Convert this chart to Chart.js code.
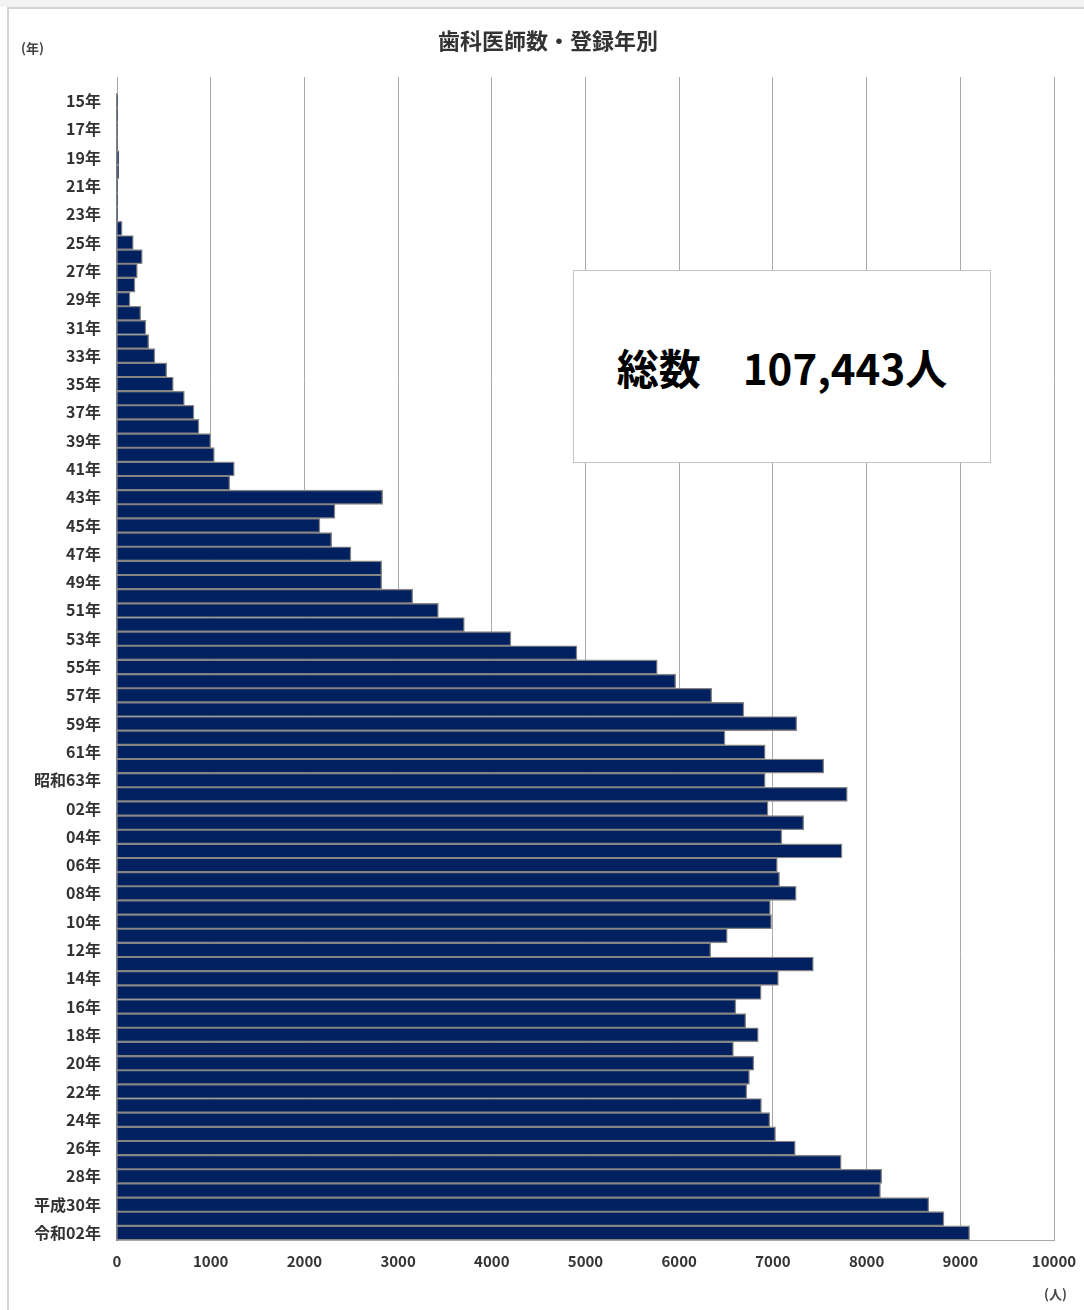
<!DOCTYPE html>
<html lang="ja">
<head>
<meta charset="utf-8">
<script src="https://cdn.jsdelivr.net/npm/chart.js@4.4.1/dist/chart.umd.min.js"></script>
<style>
  html, body { margin: 0; padding: 0; background: #fff; }
  body { width: 1084px; height: 1310px; position: relative; overflow: hidden; font-family: "Noto Sans CJK JP", sans-serif; }
  .topstrip { position: absolute; left: 0; top: 0; width: 1084px; height: 7px; background: #f3f3f3; }
  .frame { position: absolute; left: 7px; top: 7px; width: 1100px; height: 1320px; border-left: 2px solid #d4d4d4; border-top: 2px solid #d4d4d4; }
  #chart { position: absolute; left: 0; top: 0; }
  .title { position: absolute; left: 0; width: 1096px; top: 23px; text-align: center; font-weight: bold; font-size: 22px; color: #333; }
  .unit { position: absolute; font-weight: bold; font-size: 13px; color: #444; }
  .total { position: absolute; left: 573px; top: 270px; width: 416px; height: 191px; border: 1px solid #c4c4c4; background: #fff;
           display: flex; align-items: center; justify-content: center; font-weight: bold; font-size: 42px; color: #000; white-space: pre; }
</style>
</head>
<body>
<div class="topstrip"></div>
<div class="frame"></div>
<canvas id="chart" width="1084" height="1310"></canvas>
<div class="title">歯科医師数・登録年別</div>
<div class="unit" style="left:21px; top:38px;">(年)</div>
<div class="unit" style="left:1044px; top:1284px;">(人)</div>
<div class="total">総数　107,443人</div>

<script>
// 登録年 (昭和15年〜昭和63年, 平成01年〜平成30年, 令和01年〜令和02年)
const showaYears = [];
for (let y = 15; y <= 63; y++) showaYears.push(y === 63 ? '昭和63年' : y + '年');
const heiseiYears = [];
for (let y = 1; y <= 30; y++) heiseiYears.push(y === 30 ? '平成30年' : String(y).padStart(2, '0') + '年');
const reiwaYears = ['01年', '令和02年'];
const labels = [...showaYears, ...heiseiYears, ...reiwaYears];

// 人数
const showaCounts = [
  2, 3, 5, 6, 20, 18, 4, 2, 3,                 // 15-23
  55, 174, 270, 217, 192, 139, 253, 309, 338,  // 24-32
  405, 530, 601, 719, 822, 875, 1000, 1039,    // 33-40
  1252, 1203, 2835, 2327, 2166, 2291, 2497,    // 41-47
  2825, 2825, 3156, 3430, 3707, 4205, 4909,    // 48-54
  5766, 5962, 6348, 6691, 7255, 6489, 6918,    // 55-61
  7543, 6918                                   // 62-63
];
const heiseiCounts = [
  7794, 6948, 7329, 7096, 7738, 7047, 7071, 7249, 6973, 6985,  // 01-10
  6513, 6336, 7432, 7059, 6875, 6605, 6710, 6844, 6579, 6797,  // 11-20
  6750, 6722, 6878, 6967, 7028, 7239, 7729, 8162, 8148, 8664   // 21-30
];
const reiwaCounts = [8826, 9099];
const counts = [...showaCounts, ...heiseiCounts, ...reiwaCounts];

const xMax = 10000;
const xStep = 1000;

// extend the vertical grid lines a little above the first bar, like the original
const gridExtend = {
  id: 'gridExtend',
  beforeDatasetsDraw(chart) {
    const { ctx, chartArea, scales } = chart;
    ctx.save();
    ctx.strokeStyle = '#a8a8a8';
    ctx.lineWidth = 1;
    for (let v = 0; v <= xMax; v += xStep) {
      const x = Math.floor(scales.x.getPixelForValue(v)) + 0.5;
      ctx.beginPath();
      ctx.moveTo(x, 77);
      ctx.lineTo(x, chartArea.top + 1);
      ctx.stroke();
    }
    ctx.restore();
  }
};

const tickFont = { family: '"Noto Sans CJK JP", sans-serif', size: 15, weight: 'bold' };

new Chart(document.getElementById('chart'), {
  type: 'bar',
  data: {
    labels: labels,
    datasets: [{
      data: counts,
      backgroundColor: '#002060',
      borderColor: '#858585',
      borderWidth: 1.4,
      categoryPercentage: 1,
      barPercentage: 1
    }]
  },
  options: {
    indexAxis: 'y',
    responsive: false,
    animation: false,
    devicePixelRatio: 1,
    layout: { padding: { top: 94, left: 0, right: 30, bottom: 42 } },
    plugins: { legend: { display: false }, tooltip: { enabled: false }, title: { display: false } },
    scales: {
      x: {
        min: 0, max: xMax,
        ticks: { stepSize: xStep, font: tickFont, color: '#333', padding: 12, callback: v => String(v) },
        grid: { color: '#a8a8a8', lineWidth: 1, drawTicks: false },
        border: { display: true, color: '#a8a8a8', width: 1 },
        afterFit(s) { s.height = 28; s.paddingLeft = 0; s.paddingRight = 0; }
      },
      y: {
        ticks: {
          autoSkip: false,
          font: { ...tickFont, size: 16 },
          color: '#333',
          padding: 16,
          callback(v, i) { return i % 2 === 0 ? this.getLabelForValue(v) : ''; }
        },
        grid: { display: false, drawTicks: false },
        border: { display: true, color: '#7f7f7f', width: 1.5 },
        afterFit(s) { s.width = 117; }
      }
    }
  },
  plugins: [gridExtend]
});
</script>
</body>
</html>
